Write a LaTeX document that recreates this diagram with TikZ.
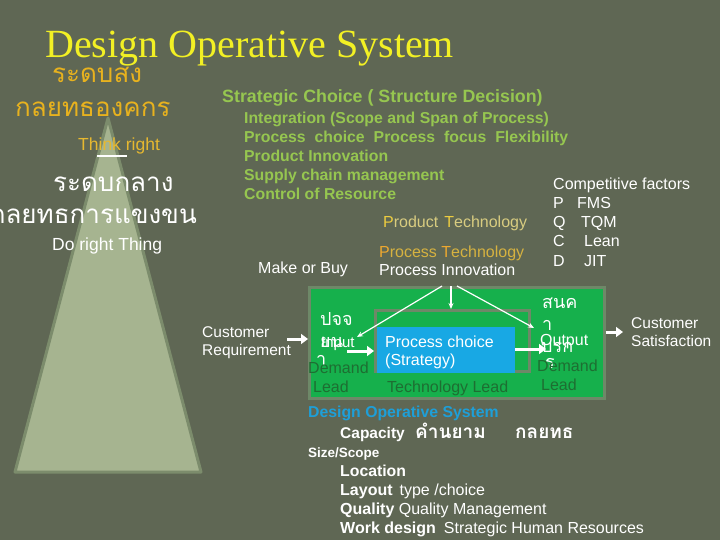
\documentclass[tikz,border=0pt]{standalone}
\usepackage{fontspec}
\setmainfont{Liberation Sans}
\newfontfamily\titlefont{Liberation Serif}
\newfontfamily\thaifont[Script=Thai]{Loma}
\usetikzlibrary{arrows.meta}
\newcommand{\fsz}[1]{\fontsize{#1}{#1}\selectfont}
\definecolor{bg}{RGB}{95,103,84}
\definecolor{titley}{RGB}{242,240,36}
\definecolor{gold}{RGB}{232,178,30}
\definecolor{thinkc}{RGB}{230,184,48}
\definecolor{stratg}{RGB}{150,198,80}
\definecolor{boxg}{RGB}{22,176,76}
\definecolor{boxb}{RGB}{110,136,104}
\definecolor{blueb}{RGB}{24,168,228}
\definecolor{dkg}{RGB}{30,110,50}
\definecolor{dosb}{RGB}{30,159,216}
\definecolor{tri}{RGB}{166,180,144}
\definecolor{trib}{RGB}{124,140,108}
\definecolor{ptech}{RGB}{216,204,128}
\definecolor{ptechi}{RGB}{236,204,64}
\definecolor{prtech}{RGB}{214,178,64}
\definecolor{prtechi}{RGB}{236,168,48}
\tikzset{
  lbl/.style={inner sep=0pt, anchor=base west},
  wtxt/.style={lbl, text=white},
  bigarrow/.style={draw=white, line width=3pt, -{Triangle[length=7pt,width=10pt]}},
  thinarrow/.style={draw=white, line width=1.2pt, -{Stealth[length=6pt,width=5pt]}},
  boxst/.style={draw=boxb, fill=boxg, line width=2.5pt, inner sep=0pt, anchor=north west},
}
\begin{document}
\begin{tikzpicture}[x=1pt,y=-1pt]
\useasboundingbox (0,0) rectangle (720,540);
\fill[bg] (0,0) rectangle (720,540);
% pyramid
\draw[fill=tri, draw=trib, line width=3pt, line join=round] (108,118) -- (15,472) -- (201,472) -- cycle;
% title
\node[lbl, text=titley, font=\titlefont\fsz{40}] (title) at (45,58) {Design Operative System};
% left column
\node[lbl, text=gold, font=\thaifont\fsz{26}] (lvlhigh) at (52,83) {ระดบสง};
\node[lbl, text=gold, font=\thaifont\fsz{26}] (orgstrat) at (15,117) {กลยทธองคกร};
\node[lbl, text=thinkc, font=\fsz{17.5}] (think) at (78,151) {Think right};
\draw[white, line width=1.5pt] (97,156) -- (127,156);
\node[wtxt, font=\thaifont\fsz{26}] (lvlmid) at (53,192) {ระดบกลาง};
\node[wtxt, anchor=base east, font=\thaifont\fsz{26}] (compstrat) at (197,223) {กลยทธการแขงขน};
\node[wtxt, font=\fsz{17.5}] (doright) at (52,251) {Do right Thing};
% strategic choice
\node[lbl, text=stratg, font=\bfseries\fsz{17.8}] (strat) at (222,103) {Strategic Choice ( Structure Decision)};
\node[lbl, text=stratg, font=\bfseries\fsz{15.8}] (s1) at (244,124) {Integration (Scope and Span of Process)};
\node[lbl, text=stratg, font=\bfseries\fsz{15.8}] (s2) at (244,143) {Process\hspace{9pt}choice\hspace{9pt}Process\hspace{9pt}focus\hspace{9pt}Flexibility};
\node[lbl, text=stratg, font=\bfseries\fsz{15.8}] (s3) at (244,162) {Product Innovation};
\node[lbl, text=stratg, font=\bfseries\fsz{15.8}] (s4) at (244,181) {Supply chain management};
\node[lbl, text=stratg, font=\bfseries\fsz{15.8}] (s5) at (244,200) {Control of Resource};
% competitive factors
\node[wtxt, font=\fsz{16}] (cf0) at (553,190) {Competitive factors};
\node[wtxt, font=\fsz{16}] (cf1) at (553,209) {\makebox[24pt][l]{P}FMS};
\node[wtxt, font=\fsz{16}] (cf2) at (553,228) {\makebox[28pt][l]{Q}TQM};
\node[wtxt, font=\fsz{16}] (cf3) at (553,247) {\makebox[31pt][l]{C}Lean};
\node[wtxt, font=\fsz{16}] (cf4) at (553,266) {\makebox[31pt][l]{D}JIT};
% technology
\node[lbl, font=\fsz{16}] (prodtech) at (383,227) {\textcolor{ptechi}{P}\textcolor{ptech}{roduct}\hspace{6pt}\textcolor{ptechi}{T}\textcolor{ptech}{echnology}};
\node[lbl, font=\fsz{16}] (proctech) at (379,257) {\textcolor{prtechi}{P}\textcolor{prtech}{rocess }\textcolor{prtechi}{T}\textcolor{prtech}{echnology}};
\node[wtxt, font=\fsz{16}] (pinnov) at (379,275) {Process Innovation};
\node[wtxt, font=\fsz{16}] (mob) at (258,273) {Make or Buy};
% boxes
\node[boxst, minimum width=295pt, minimum height=111pt] (outer) at (308,286) {};
\node[boxst, minimum width=154pt, minimum height=61pt] (inner) at (374,309) {};
\node[fill=blueb, inner sep=0pt, anchor=north west, minimum width=138pt, minimum height=46pt] (blue) at (377,327) {};
\node[wtxt, font=\fsz{16}] (pc1) at (385,347) {Process choice};
\node[wtxt, font=\fsz{16}] (pc2) at (385,365) {(Strategy)};
% left inside box
\node[wtxt, font=\thaifont\fsz{18}] (th1) at (320,325) {ปจจ};
\node[wtxt, font=\thaifont\fsz{18}] (th2) at (320,347) {ยน};
\node[wtxt, font=\thaifont\fsz{18}] (th3) at (316,365) {า};
\node[wtxt, font=\fsz{15}] (inp) at (321,347) {Input};
\node[lbl, text=dkg, font=\fsz{16}] (dem1) at (308,373) {Demand};
\node[lbl, text=dkg, font=\fsz{16}] (lead1) at (313,392) {Lead};
\node[lbl, text=dkg, font=\fsz{16}] (techlead) at (387,392) {Technology Lead};
% right inside box
\node[wtxt, font=\thaifont\fsz{18}] (th4) at (542,308) {สนค};
\node[wtxt, font=\thaifont\fsz{18}] (th5) at (542,330) {า};
\node[wtxt, font=\thaifont\fsz{18}] (th6) at (541,352) {บรก};
\node[wtxt, font=\thaifont\fsz{18}] (th7) at (545,368) {ร};
\node[wtxt, font=\fsz{16}] (outp) at (540,345) {Output};
\node[lbl, text=dkg, font=\fsz{16}] (dem2) at (537,371) {Demand};
\node[lbl, text=dkg, font=\fsz{16}] (lead2) at (541,390) {Lead};
% outside texts
\node[wtxt, font=\fsz{15.5}, align=left, anchor=north west] (custreq) at (202,326) {Customer\\[3pt]Requirement};
\node[wtxt, font=\fsz{15.5}, align=left, anchor=north west] (custsat) at (631,317) {Customer\\[3pt]Satisfaction};
% arrows
\coordinate (crA) at (287,339);
\draw[bigarrow] (crA) -- (outer.west |- crA);
\coordinate (inA) at (347,351);
\draw[bigarrow] (inA) -- (inner.west |- inA);
\coordinate (outA) at (546,349);
\draw[bigarrow] (blue.east |- outA) -- (outA);
\coordinate (csA) at (623,332);
\draw[bigarrow] (outer.east |- csA) -- (csA);
\coordinate (pl) at (442,286);
\coordinate (pm) at (451,286);
\coordinate (pr) at (457,286);
\coordinate (plEnd) at (357,337);
\coordinate (prEnd) at (534,328);
\draw[thinarrow] (pl) -- (plEnd);
\draw[thinarrow] (pm) -- (inner.north -| pm);
\draw[thinarrow] (pr) -- (prEnd);
% bottom block
\node[lbl, text=dosb, font=\bfseries\fsz{15.8}] (dos) at (308,417) {Design Operative System};
\node[wtxt, font=\bfseries\fsz{15.5}] (cap) at (340,438) {Capacity};
\node[wtxt, font=\thaifont\bfseries\fsz{19}] (defn) at (415,438) {คำนยาม};
\node[wtxt, font=\thaifont\bfseries\fsz{19}] (strth) at (515,438) {กลยทธ};
\node[wtxt, font=\bfseries\fsz{13.5}] (size) at (308,457) {Size/Scope};
\node[wtxt, font=\fsz{15.8}] (loc) at (340,476) {\textbf{Location}};
\node[wtxt, font=\fsz{16}] (lay) at (340,495) {\textbf{Layout}\hspace{7pt}type /choice};
\node[wtxt, font=\fsz{16}] (qual) at (340,514) {\textbf{Quality} Quality Management};
\node[wtxt, font=\fsz{16}] (work) at (340,533) {\textbf{Work design}\hspace{8pt}Strategic Human Resources};
\end{tikzpicture}
\end{document}
